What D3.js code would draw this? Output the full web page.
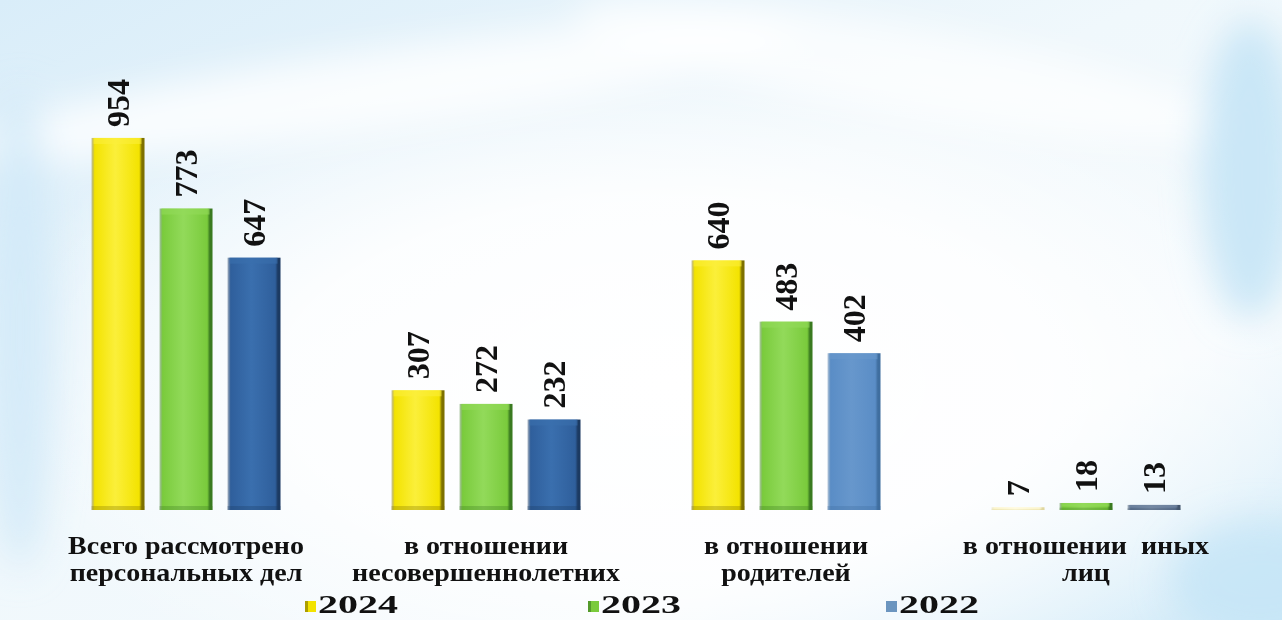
<!DOCTYPE html>
<html><head><meta charset="utf-8">
<script src="https://cdn.jsdelivr.net/npm/d3@7"></script>
<style>html,body{margin:0;padding:0;overflow:hidden;background:#fff}</style>
</head><body>
<svg id="chart" width="1282" height="620"></svg>
<script>
const categories = [
  ["Всего рассмотрено", "персональных дел"],
  ["в отношении", "несовершеннолетних"],
  ["в отношении", "родителей"],
  ["в отношении  иных", "лиц"]
];
const seriesNames = ["2024", "2023", "2022"];
const values2024 = [954, 307, 640, 7];
const values2023 = [773, 272, 483, 18];
const values2022 = [647, 232, 402, 13];
const seriesValues = [values2024, values2023, values2022];

const W = 1282, H = 620;
const svg = d3.select("#chart");
const defs = svg.append("defs");

// ---- background ----
const bg = defs.append("linearGradient").attr("id","bgLin").attr("x1",0).attr("y1",0).attr("x2",1).attr("y2",1);
bg.append("stop").attr("offset","0%").attr("stop-color","#d9edf9");
bg.append("stop").attr("offset","45%").attr("stop-color","#f0f8fc");
bg.append("stop").attr("offset","75%").attr("stop-color","#f5fafd");
bg.append("stop").attr("offset","100%").attr("stop-color","#d0eaf8");
const rg = defs.append("radialGradient").attr("id","bgRad").attr("cx","52%").attr("cy","62%").attr("r","55%");
rg.append("stop").attr("offset","0%").attr("stop-color","#ffffff").attr("stop-opacity",1);
rg.append("stop").attr("offset","55%").attr("stop-color","#ffffff").attr("stop-opacity",0.85);
rg.append("stop").attr("offset","100%").attr("stop-color","#ffffff").attr("stop-opacity",0);
const blur = defs.append("filter").attr("id","blur").attr("x","-50%").attr("y","-50%").attr("width","200%").attr("height","200%");
blur.append("feGaussianBlur").attr("stdDeviation",18);

svg.append("rect").attr("width",W).attr("height",H).attr("fill","url(#bgLin)");
svg.append("rect").attr("width",W).attr("height",H).attr("fill","url(#bgRad)");
const swirl = svg.append("g").attr("filter","url(#blur)");
swirl.append("ellipse").attr("cx",380).attr("cy",90).attr("rx",420).attr("ry",40)
  .attr("transform","rotate(-8 380 90)").attr("fill","#ffffff").attr("opacity",0.8);
swirl.append("ellipse").attr("cx",900).attr("cy",70).attr("rx",330).attr("ry",45)
  .attr("transform","rotate(10 900 70)").attr("fill","#ffffff").attr("opacity",0.7);
swirl.append("ellipse").attr("cx",1250).attr("cy",170).attr("rx",50).attr("ry",150)
  .attr("fill","#bfe2f5").attr("opacity",0.8);
swirl.append("ellipse").attr("cx",20).attr("cy",330).attr("rx",35).attr("ry",240)
  .attr("fill","#cfe8f7").attr("opacity",0.8);
swirl.append("ellipse").attr("cx",1260).attr("cy",580).attr("rx",90).attr("ry",60)
  .attr("fill","#c4e5f6").attr("opacity",0.8);

// ---- scales ----
const y = d3.scaleLinear().domain([0, 1000]).range([510, 120]);
const x0 = d3.scaleBand().domain(d3.range(categories.length)).range([36, 1236]);
const x1 = d3.scaleBand().domain(seriesNames).range([48, 252]).paddingInner(0.22).paddingOuter(0.11);

// bar styles
const barStyle = {
  "2024": {light:"#fbef3a", main:"#f3e300", dark:"#7d7000"},
  "2023": {light:"#92da5a", main:"#7acb3c", dark:"#3a7a20"},
  "2022": {light:"#3a6fae", main:"#2f5f9c", dark:"#1c3a62"}
};
const blueOverride = {2: {light:"#6797cc", main:"#5a8dc6", dark:"#3f6e9f"}, 3: {light:"#7488a3", main:"#5d7393", dark:"#44566e"}};
const paleOverride = {3: {light:"#fffbe0", main:"#f8f0c0", dark:"#e0d7a0"}};

function gradFor(id, st){
  const g = defs.append("linearGradient").attr("id",id).attr("x1",0).attr("x2",1).attr("y1",0).attr("y2",0);
  g.append("stop").attr("offset","0%").attr("stop-color",st.dark).attr("stop-opacity",0.35);
  g.append("stop").attr("offset","6%").attr("stop-color",st.main);
  g.append("stop").attr("offset","45%").attr("stop-color",st.light);
  g.append("stop").attr("offset","90%").attr("stop-color",st.main);
  g.append("stop").attr("offset","95%").attr("stop-color",st.dark);
  g.append("stop").attr("offset","100%").attr("stop-color",st.dark);
}

const barsData = [];
categories.forEach((c, ci) => {
  seriesNames.forEach((s, si) => {
    let st = barStyle[s];
    if (s === "2022" && blueOverride[ci]) st = blueOverride[ci];
    if (s === "2024" && paleOverride[ci]) st = paleOverride[ci];
    const gid = `g_${ci}_${si}`;
    gradFor(gid, st);
    barsData.push({ci, s, v: seriesValues[si][ci], gid, st});
  });
});

const groups = svg.append("g");
const bar = groups.selectAll("g.bar").data(barsData).join("g").attr("class","bar")
  .attr("transform", d => `translate(${x0(d.ci) + x1(d.s)},0)`);

bar.append("rect")
  .attr("x", 0).attr("y", d => y(d.v))
  .attr("width", x1.bandwidth()).attr("height", d => y(0) - y(d.v))
  .attr("fill", d => `url(#${d.gid})`);
// top bevel highlight
bar.append("rect")
  .attr("x", 2).attr("y", d => y(d.v))
  .attr("width", x1.bandwidth() - 5).attr("height", d => Math.min(6, (y(0) - y(d.v)) / 2))
  .attr("fill", d => d.st.light).attr("opacity", 0.6);
// bottom shade
bar.append("rect")
  .attr("x", 0).attr("y", d => y(0) - Math.min(4, (y(0) - y(d.v)) / 3))
  .attr("width", x1.bandwidth()).attr("height", d => Math.min(4, (y(0) - y(d.v)) / 3))
  .attr("fill", d => d.st.dark).attr("opacity", 0.3);

// value labels
bar.append("text")
  .attr("transform", d => `translate(${x1.bandwidth()/2 + 11},${y(d.v) - 11}) rotate(-90)`)
  .attr("text-anchor","start")
  .attr("font-family","'Liberation Serif','Times New Roman',serif")
  .attr("font-weight","bold").attr("font-size",32)
  .attr("fill","#111")
  .text(d => d.v);

// category labels (slightly wide lettering as in the reference)
const catG = svg.append("g")
  .attr("font-family","'Liberation Serif','Times New Roman',serif")
  .attr("font-weight","bold").attr("font-size",25).attr("fill","#111")
  .attr("text-anchor","middle");
categories.forEach((lines, ci) => {
  lines.forEach((ln, li) => {
    const t = catG.append("text")
      .attr("x", x0(ci) + x0.bandwidth()/2).attr("y", 554 + li*27)
      .style("white-space","pre").text(ln);
    const len = t.node().getComputedTextLength();
    t.attr("textLength", len * 1.12).attr("lengthAdjust","spacingAndGlyphs");
  });
});

// legend
const legendX = [305, 588, 886];
const legend = svg.append("g");
seriesNames.forEach((s, si) => {
  const st = barStyle[s];
  const lg = legend.append("g").attr("transform", `translate(${legendX[si]},0)`);
  lg.append("rect").attr("x",0).attr("y",601).attr("width",11).attr("height",11)
    .attr("fill", si === 2 ? "#6b95bf" : st.main);
  if (si < 2) lg.append("rect").attr("x",0).attr("y",601).attr("width",3).attr("height",11).attr("fill",st.dark).attr("opacity",0.6);
  lg.append("text").attr("x",13).attr("y",613)
    .attr("font-family","'Liberation Serif','Times New Roman',serif")
    .attr("font-weight","bold").attr("font-size",26).attr("fill","#111")
    .attr("textLength", 80).attr("lengthAdjust","spacingAndGlyphs")
    .text(s);
});
</script>
</body></html>
